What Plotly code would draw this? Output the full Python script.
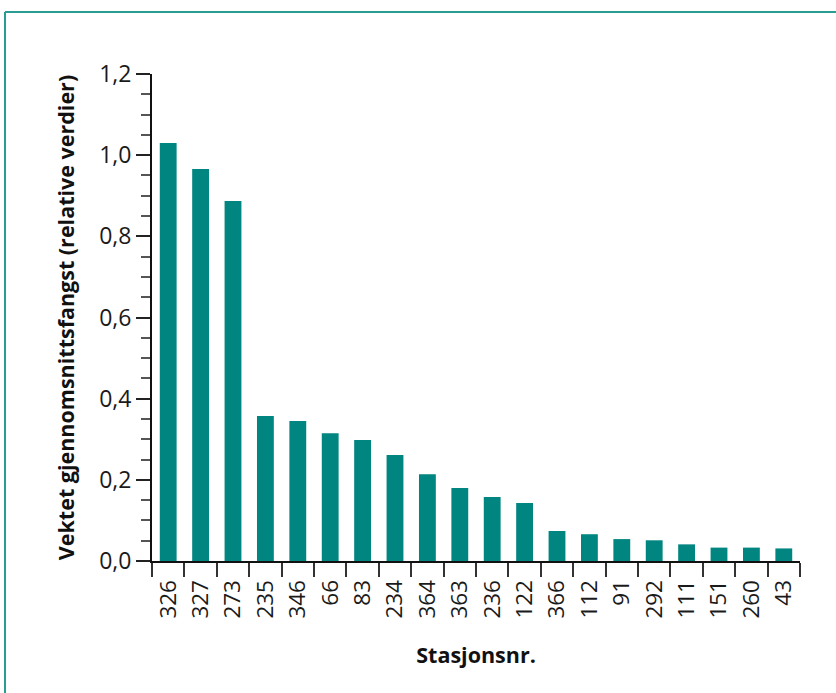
import plotly.graph_objects as go

stations = ["326", "327", "273", "235", "346", "66", "83", "234", "364", "363",
            "236", "122", "366", "112", "91", "292", "111", "151", "260", "43"]
values = [1.03, 0.966, 0.887, 0.357, 0.345, 0.315, 0.298, 0.261, 0.214, 0.18,
          0.158, 0.143, 0.074, 0.066, 0.054, 0.051, 0.041, 0.033, 0.033, 0.031]

y_title = "Vektet gjennomsnittsfangst (relative verdier)"
x_title = "Stasjonsnr."

W, H = 836, 693
ml, mr, mt, mb = 152, 36, 74, 132
pw, ph = W - ml - mr, H - mt - mb

fig = go.Figure(go.Bar(x=stations, y=values, marker=dict(color="#008580", line=dict(width=0)),
                       width=0.52))

font_family = "Open Sans, Noto Sans, sans-serif"
fig.update_layout(
    width=W, height=H,
    margin=dict(l=ml, r=mr, t=mt, b=mb, autoexpand=False),
    paper_bgcolor="white", plot_bgcolor="white",
    separators=", ",
    font=dict(family=font_family, color="#1a1a1a"),
    showlegend=False,
    xaxis=dict(
        type="category", range=[-0.5, 19.5], automargin=False,
        showline=True, linecolor="#111", linewidth=2,
        ticks="outside", tickson="boundaries", ticklen=14, tickwidth=2, tickcolor="#333",
        ticklabelstandoff=8,
        tickangle=-90, tickfont=dict(size=22.5, family=font_family, color="#1a1a1a"),
        showgrid=False,
        title=dict(text="<b>" + x_title + "</b>", font=dict(size=21.5, family=font_family, color="#111"), standoff=30),
    ),
    yaxis=dict(
        range=[0, 1.2], dtick=0.2, tickformat=".1f", automargin=False,
        showline=True, linecolor="#111", linewidth=2,
        ticks="outside", ticklen=14, tickwidth=2, tickcolor="#222",
        minor=dict(dtick=0.05, ticks="outside", ticklen=9, tickwidth=2, tickcolor="#555"),
        tickfont=dict(size=23, family=font_family, color="#1a1a1a"),
        showgrid=False, zeroline=False,
        title=dict(text="<b>" + y_title + "</b>", font=dict(size=21.5, family=font_family, color="#111"), standoff=19),
    ),
)

# outer teal frame (only top and left edges visible)
def px_to_paper_x(px):
    return (px - ml) / pw

def px_to_paper_y(py):
    return 1 - (py - mt) / ph

fig.add_shape(type="line", xref="paper", yref="paper",
              x0=px_to_paper_x(5), x1=px_to_paper_x(840), y0=px_to_paper_y(12), y1=px_to_paper_y(12),
              line=dict(color="#2a9d93", width=2))
fig.add_shape(type="line", xref="paper", yref="paper",
              x0=px_to_paper_x(5), x1=px_to_paper_x(5), y0=px_to_paper_y(12), y1=px_to_paper_y(700),
              line=dict(color="#2a9d93", width=2))

fig.write_html("out.html", config={"displayModeBar": False},
               post_script="document.body.style.margin='0';")
